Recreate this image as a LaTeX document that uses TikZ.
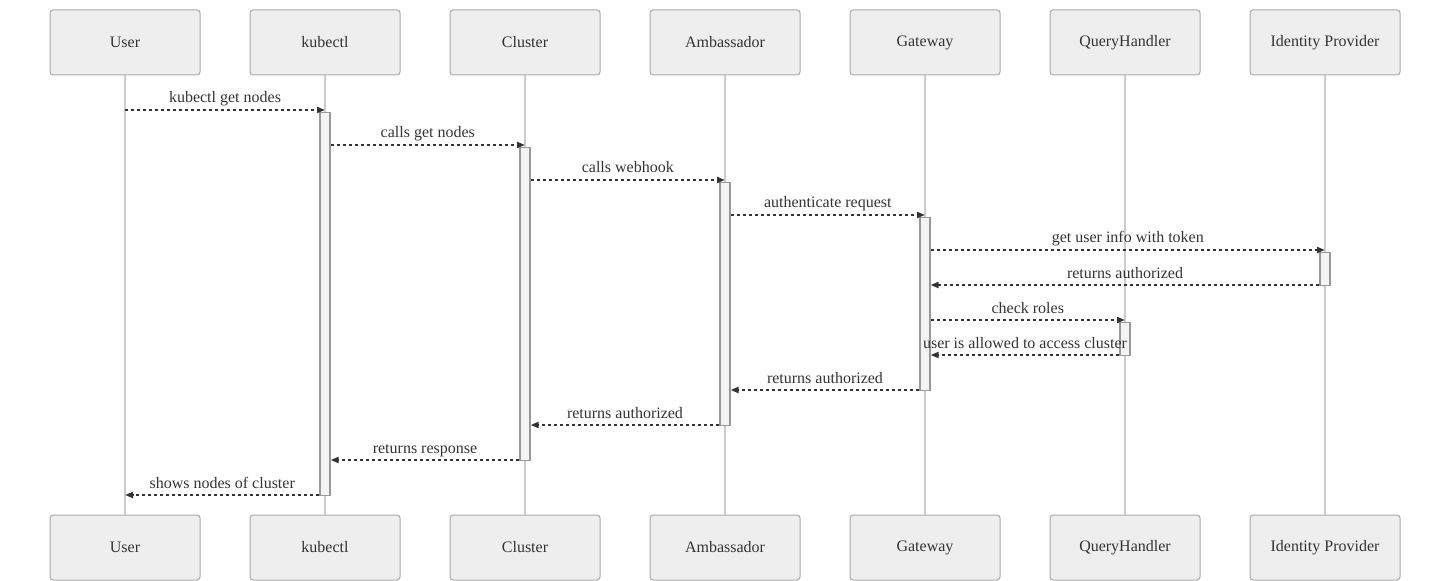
\documentclass[tikz,border=0pt]{standalone}
\usepackage{fontspec}
\setmainfont{Liberation Serif}
\usetikzlibrary{arrows.meta}

\definecolor{actorfill}{HTML}{EEEEEE}
\definecolor{actorline}{HTML}{AAAAAA}
\definecolor{lifeline}{HTML}{CCCCCC}
\definecolor{actfill}{HTML}{F4F4F4}
\definecolor{actline}{HTML}{999999}
\definecolor{msgcol}{HTML}{333333}

\tikzset{
  actor/.style={draw=actorline, fill=actorfill, rounded corners=2.25pt,
    line width=0.75pt, minimum width=112.5pt, minimum height=48.75pt,
    text=msgcol, font=\fontsize{12}{14}\selectfont},
  life/.style={draw=lifeline, line width=1.1pt},
  actbox/.style={draw=actline, fill=actfill, line width=0.9pt,
    minimum width=7.5pt, inner sep=0pt, anchor=north},
  msg/.style={draw=msgcol, line width=1.5pt, dash pattern=on 2.25pt off 2.25pt,
    -{Triangle[length=6pt,width=4.5pt]}},
  lbl/.style={anchor=base, yshift=5.25pt, inner sep=0pt, text=msgcol,
    font=\fontsize{12}{14}\selectfont}
}

\begin{document}
\begin{tikzpicture}[x=0.75pt,y=-0.75pt]
  \useasboundingbox (0,0) rectangle (1450,581);

  % participants, top and bottom
  \node[actor] (user-top) at (125,42.5) {User};
  \node[actor] (kubectl-top) at (325,42.5) {kubectl};
  \node[actor] (cluster-top) at (525,42.5) {Cluster};
  \node[actor] (amb-top) at (725,42.5) {Ambassador};
  \node[actor] (gw-top) at (925,42.5) {Gateway};
  \node[actor] (qh-top) at (1125,42.5) {QueryHandler};
  \node[actor] (idp-top) at (1325,42.5) {Identity Provider};

  \node[actor] (user-bot) at (125,547.5) {User};
  \node[actor] (kubectl-bot) at (325,547.5) {kubectl};
  \node[actor] (cluster-bot) at (525,547.5) {Cluster};
  \node[actor] (amb-bot) at (725,547.5) {Ambassador};
  \node[actor] (gw-bot) at (925,547.5) {Gateway};
  \node[actor] (qh-bot) at (1125,547.5) {QueryHandler};
  \node[actor] (idp-bot) at (1325,547.5) {Identity Provider};

  % lifelines
  \foreach \p in {user,kubectl,cluster,amb,gw,qh,idp}
    \draw[life] (\p-top) -- (\p-bot);

  % activations
  \node[actbox, minimum height=383*0.75pt] (act-kubectl) at (325,112) {};
  \node[actbox, minimum height=313*0.75pt] (act-cluster) at (525,147) {};
  \node[actbox, minimum height=243*0.75pt] (act-amb) at (725,182) {};
  \node[actbox, minimum height=173*0.75pt] (act-gw) at (925,217) {};
  \node[actbox, minimum height=33*0.75pt] (act-idp) at (1325,252) {};
  \node[actbox, minimum height=33*0.75pt] (act-qh) at (1125,322) {};

  % message rows
  \coordinate (r1) at (0,110);
  \coordinate (r2) at (0,145);
  \coordinate (r3) at (0,180);
  \coordinate (r4) at (0,215);
  \coordinate (r5) at (0,250);
  \coordinate (r6) at (0,285);
  \coordinate (r7) at (0,320);
  \coordinate (r8) at (0,355);
  \coordinate (r9) at (0,390);
  \coordinate (r10) at (0,425);
  \coordinate (r11) at (0,460);
  \coordinate (r12) at (0,495);

  % messages
  \draw[msg] (user-top |- r1) -- node[lbl] {kubectl get nodes} (kubectl-top |- r1);
  \draw[msg] (act-kubectl.east |- r2) -- node[lbl] {calls get nodes} (cluster-top |- r2);
  \draw[msg] (act-cluster.east |- r3) -- node[lbl] {calls webhook} (amb-top |- r3);
  \draw[msg] (act-amb.east |- r4) -- node[lbl] {authenticate request} (gw-top |- r4);
  \draw[msg] (act-gw.east |- r5) -- node[lbl] {get user info with token} (idp-top |- r5);
  \draw[msg] (act-idp.west |- r6) -- node[lbl] {returns authorized} (act-gw.east |- r6);
  \draw[msg] (act-gw.east |- r7) -- node[lbl] {check roles} (qh-top |- r7);
  \draw[msg] (act-qh.west |- r8) -- node[lbl] {user is allowed to access cluster} (act-gw.east |- r8);
  \draw[msg] (act-gw.west |- r9) -- node[lbl] {returns authorized} (act-amb.east |- r9);
  \draw[msg] (act-amb.west |- r10) -- node[lbl] {returns authorized} (act-cluster.east |- r10);
  \draw[msg] (act-cluster.west |- r11) -- node[lbl] {returns response} (act-kubectl.east |- r11);
  \draw[msg] (act-kubectl.west |- r12) -- node[lbl] {shows nodes of cluster} (user-top |- r12);
\end{tikzpicture}
\end{document}
